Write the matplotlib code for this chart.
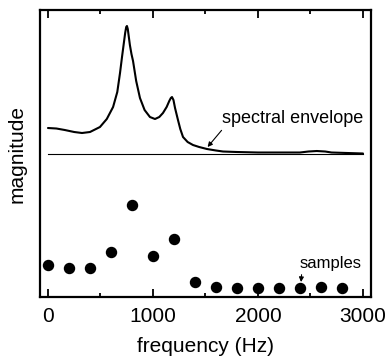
import matplotlib
matplotlib.use("Agg")
import matplotlib.pyplot as plt
from matplotlib.ticker import MultipleLocator

plt.rcParams["font.family"] = ["Liberation Sans", "DejaVu Sans"]

# spectral envelope (frequency in Hz, magnitude in arbitrary units)
env_freq = [0, 80, 160, 250, 324, 400, 495, 560, 620, 660, 686, 705, 720, 735, 745, 752,
            760, 770, 780, 795, 810, 840, 876, 920, 971, 1019, 1060, 1095, 1130, 1155,
            1170, 1181, 1195, 1210, 1238, 1260, 1286, 1330, 1381, 1440, 1514, 1600,
            1667, 1800, 2000, 2200, 2400, 2480, 2560, 2640, 2700, 2850, 3000]
env_mag = [169, 168.5, 167, 165, 164, 165, 170, 178, 190, 205, 224, 240, 252, 264, 270, 271,
           268, 260, 252, 243, 236, 216, 199, 187, 180, 178, 180, 184, 190, 196,
           199, 200, 197, 189, 177, 168, 160, 155, 152, 150, 148, 146.5,
           145.5, 145, 144.5, 144.5, 144.5, 145.5, 146, 145.5, 144.5, 144, 143.5]
baseline_level = 143

# sampled magnitudes every 200 Hz
sample_freq = [0, 200, 400, 600, 800, 1000, 1200, 1400, 1600, 1800, 2000, 2200, 2400, 2600, 2800]
sample_mag = [32, 29, 29, 45, 92, 41, 58, 15, 10, 9, 9, 9, 9, 10, 9]

fig = plt.figure(figsize=(3.91, 3.56), dpi=100)
ax = fig.add_axes([0.1023, 0.1657, 0.8465, 0.8062])

ax.plot(env_freq, env_mag, color="black", lw=1.5, solid_joinstyle="round",
        solid_capstyle="round")
ax.plot([0, 3000], [baseline_level, baseline_level], color="black", lw=0.8)
ax.scatter(sample_freq, sample_mag, s=52, color="black", zorder=3)

ax.annotate("spectral envelope", xy=(1520, 150), xytext=(1657, 179),
            fontsize=13, va="center", ha="left",
            arrowprops=dict(arrowstyle="-|>", color="black", lw=0.8,
                            mutation_scale=7, shrinkA=1, shrinkB=0,
                            relpos=(0.02, 0)))
ax.annotate("samples", xy=(2410, 15), xytext=(2400, 34),
            fontsize=12, va="center", ha="left",
            arrowprops=dict(arrowstyle="-|>", color="black", lw=0.8,
                            mutation_scale=7, shrinkA=1, shrinkB=0,
                            relpos=(0.03, 0)))

ax.set_xlim(-76, 3076)
ax.set_ylim(0, 287)
ax.set_yticks([])
ax.xaxis.set_major_locator(MultipleLocator(1000))
ax.xaxis.set_minor_locator(MultipleLocator(500))
ax.tick_params(axis="x", which="both", direction="in", top=True, labelsize=15,
               pad=7, width=1.3)
ax.tick_params(axis="x", which="major", length=6)
ax.tick_params(axis="x", which="minor", length=3)
for spine in ax.spines.values():
    spine.set_linewidth(1.6)

ax.set_xlabel("frequency (Hz)", fontsize=15, labelpad=8)
ax.set_ylabel("magnitude", fontsize=15, labelpad=10)

fig.savefig("out.png", dpi=100)
